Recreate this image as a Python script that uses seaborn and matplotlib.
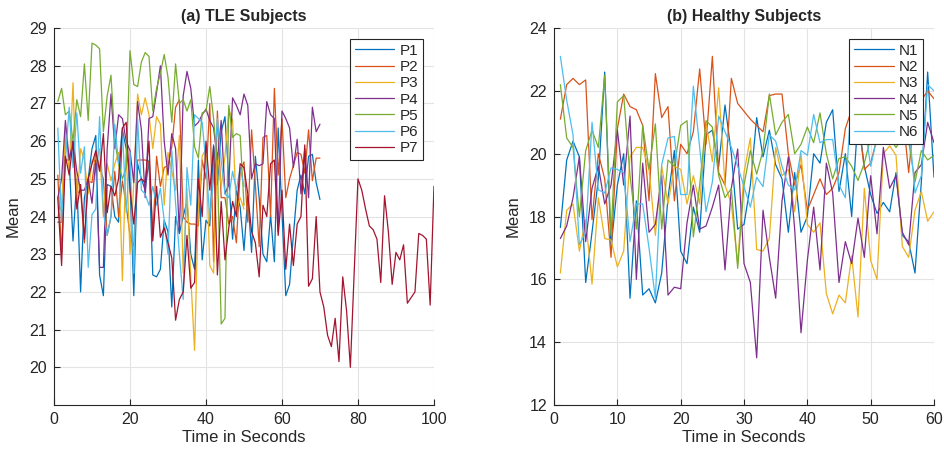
import numpy as np
import pandas as pd
import matplotlib
matplotlib.use("Agg")
import matplotlib.pyplot as plt
import seaborn as sns

# ---- TLE subjects: mean value per second ----
P1 = [23.85, 23.85, 25.5, 25.5, 23.35, 25.0, 22.0, 24.5, 25.0, 25.8,
      26.15, 22.45, 21.9, 24.85, 24.8, 24.0, 23.85, 26.3, 25.8, 25.0,
      21.9, 25.4, 25.0, 24.7, 25.5, 22.45, 22.4, 22.6, 23.9, 23.6,
      21.6, 24.0, 23.55, 24.0, 24.4, 23.0, 22.6, 25.5, 22.85, 23.9,
      23.75, 25.9, 24.85, 26.25, 26.65, 25.0, 23.4, 24.7, 24.25, 23.1,
      24.55, 23.05, 25.6, 24.5, 23.0, 22.8, 24.05, 22.8, 26.35, 24.1,
      21.9, 22.2, 23.5, 24.7, 25.1, 24.6, 25.6, 25.65, 24.9, 24.45]
P2 = [25.1, 23.0, 26.2, 25.5, 26.0, 24.6, 24.7, 23.3, 24.95, 24.9,
      25.7, 25.3, 25.0, 23.5, 24.0, 25.2, 24.0, 24.95, 24.3, 23.5,
      23.2, 25.5, 25.5, 25.5, 25.45, 23.5, 25.6, 24.8, 25.3, 25.35,
      25.85, 26.9, 27.1, 24.0, 23.85, 23.8, 23.8, 23.75, 25.5, 25.0,
      27.0, 22.8, 26.8, 24.5, 24.5, 23.8, 24.0, 23.3, 25.2, 25.45,
      23.85, 26.3, 24.85, 23.2, 26.1, 26.15, 24.0, 27.4, 25.1, 26.6,
      24.5, 25.0, 25.35, 25.7, 25.65, 25.15, 26.3, 24.95, 25.55, 25.55]
P3 = [24.0, 24.3, 26.3, 25.2, 27.55, 24.3, 25.8, 25.5, 24.6, 25.5,
      25.4, 25.8, 24.0, 25.4, 24.95, 25.4, 25.7, 22.3, 25.8, 23.0,
      24.9, 27.25, 26.7, 27.15, 26.7, 25.8, 26.65, 26.45, 24.3, 25.7,
      25.2, 24.7, 26.15, 22.5, 24.75, 22.4, 20.45, 24.3, 25.6, 25.8,
      22.7, 22.5, 25.7, 24.8, 25.6, 26.85, 26.55, 24.15, 24.5, 24.2]
P4 = [24.5, 25.0, 26.55, 25.5, 26.0, 25.2, 24.7, 24.7, 25.0, 24.35,
      25.5, 22.65, 22.65, 25.8, 27.25, 25.8, 26.7, 26.6, 26.0, 25.75,
      24.9, 27.05, 26.3, 24.5, 26.6, 26.65, 27.3, 28.0, 26.0, 25.1,
      26.2, 25.8, 23.55, 27.2, 27.85, 27.4, 26.4, 26.5, 26.7, 26.85,
      26.55, 26.35, 25.5, 26.55, 24.6, 24.85, 27.15, 26.95, 26.7, 27.25,
      26.95, 25.0, 25.4, 25.35, 25.4, 27.05, 26.7, 26.6, 23.6, 26.8,
      26.6, 26.35, 25.3, 26.05, 24.6, 25.8, 24.5, 26.9, 26.25, 26.45]
P5 = [27.05, 27.4, 26.7, 26.8, 26.0, 27.1, 26.65, 28.05, 26.55, 28.6,
      28.55, 28.45, 26.25, 27.2, 27.75, 26.0, 25.4, 25.0, 25.3, 28.4,
      27.5, 27.45, 28.1, 28.35, 28.25, 26.8, 27.4, 27.8, 28.3, 27.7,
      26.5, 28.05, 27.0, 27.1, 26.8, 27.1, 25.85, 25.55, 26.75, 26.8,
      27.45, 26.6, 25.4, 21.15, 21.3, 26.95, 26.1, 26.2, 26.15, 24.3]
P6 = [26.35, 23.85, 25.5, 26.9, 25.3, 26.75, 25.15, 25.85, 22.65, 24.05,
      24.2, 26.65, 24.1, 23.5, 24.0, 26.45, 25.4, 26.35, 24.1, 25.7,
      22.5, 26.6, 24.7, 24.6, 24.3, 24.8, 24.3, 24.75, 23.9, 23.0,
      25.75, 24.35, 23.0, 21.8, 25.3, 24.3, 26.7, 26.6, 26.5, 25.4,
      24.0, 25.0, 26.6, 25.5, 24.6, 24.5, 25.2, 24.7, 25.3, 24.8]
P7 = [24.5, 22.7, 25.6, 25.1, 26.0, 24.2, 24.85, 23.4, 25.0, 25.4,
      25.75, 25.2, 26.2, 24.1, 24.8, 24.55, 25.0, 26.35, 26.5, 24.7,
      23.8, 24.9, 25.0, 24.9, 26.0, 23.35, 24.8, 23.45, 23.7, 23.3,
      22.9, 21.25, 21.8, 22.0, 23.5, 22.1, 22.25, 25.0, 24.0, 26.0,
      24.7, 25.85, 22.45, 24.4, 22.85, 23.7, 24.4, 24.0, 25.4, 25.3,
      24.6, 23.6, 23.3, 22.4, 24.3, 24.0, 25.4, 25.5, 23.5, 24.7,
      22.6, 23.8, 22.7, 23.8, 24.0, 25.9, 22.15, 22.35, 24.0, 22.0,
      21.6, 20.85, 20.55, 21.3, 20.15, 22.4, 21.5, 20.0, 22.5, 25.0,
      24.7, 24.2, 23.75, 23.65, 23.4, 22.25, 24.55, 23.6, 22.2, 23.05,
      22.85, 23.25, 21.7, 21.85, 22.0, 23.55, 23.5, 23.4, 21.65, 24.8]

# ---- Healthy subjects ----
N1 = [17.65, 19.8, 20.4, 19.9, 15.9, 17.5, 19.2, 22.6, 17.0, 19.0,
      20.0, 15.4, 18.5, 15.5, 15.7, 15.25, 16.2, 18.6, 20.1, 16.9,
      16.5, 18.3, 17.5, 20.6, 20.75, 19.6, 21.55, 20.0, 17.6, 17.75,
      19.0, 21.15, 19.9, 20.75, 19.65, 19.2, 17.5, 19.4, 17.5, 18.0,
      20.0, 19.7, 21.0, 21.4, 18.8, 20.0, 18.0, 21.2, 19.6, 18.7,
      18.1, 18.45, 18.15, 19.4, 17.4, 17.2, 16.2, 19.1, 22.6, 19.25]
N2 = [21.1, 22.2, 22.4, 22.2, 22.35, 17.9, 20.0, 19.2, 16.7, 20.8,
      21.9, 21.5, 21.4, 20.9, 18.5, 22.55, 21.15, 21.5, 18.5, 20.3,
      20.0, 20.7, 22.7, 20.3, 23.1, 19.4, 19.0, 22.4, 21.6, 21.35,
      21.1, 20.9, 20.7, 21.85, 21.9, 21.9, 20.0, 19.0, 19.65, 18.2,
      18.7, 19.2, 18.7, 18.9, 19.4, 20.8, 21.4, 21.2, 19.5, 19.7,
      20.5, 20.9, 21.5, 21.5, 21.4, 19.4, 21.5, 21.7, 22.0, 21.75]
N3 = [16.2, 18.2, 18.4, 16.9, 17.9, 15.85, 18.6, 17.3, 17.25, 16.4,
      16.9, 19.9, 20.2, 20.2, 19.5, 17.4, 19.6, 18.4, 19.6, 19.5,
      18.4, 19.3, 18.4, 21.0, 19.75, 22.1, 19.0, 18.4, 16.5, 19.4,
      20.5, 16.95, 16.9, 17.3, 20.2, 19.3, 19.5, 18.15, 20.0, 17.75,
      17.5, 17.8, 15.55, 14.9, 15.5, 15.25, 16.75, 14.8, 18.9, 16.6,
      16.0, 20.0, 20.25, 19.95, 17.05, 16.7, 18.2, 18.8, 17.85, 18.15]
N4 = [17.3, 17.7, 18.6, 19.9, 17.2, 18.9, 19.6, 18.4, 19.0, 20.75,
      19.0, 21.2, 16.0, 19.7, 17.5, 17.75, 19.3, 15.5, 15.75, 15.7,
      17.8, 19.0, 17.6, 17.7, 18.3, 19.0, 16.3, 18.9, 20.15, 16.5,
      15.9, 13.5, 18.2, 16.7, 15.4, 18.5, 19.9, 17.6, 14.3, 16.6,
      18.3, 16.3, 19.7, 18.75, 15.9, 17.2, 16.5, 17.95, 16.7, 19.3,
      17.45, 20.2, 18.9, 19.3, 17.5, 17.1, 19.4, 19.65, 21.0, 20.35]
N5 = [22.2, 20.5, 20.2, 18.0, 20.1, 20.75, 20.2, 22.5, 17.4, 21.65,
      21.85, 19.3, 17.6, 20.9, 19.5, 20.95, 17.6, 19.8, 19.6, 20.9,
      21.05, 17.35, 19.0, 21.05, 20.85, 19.3, 18.6, 18.9, 16.35, 19.0,
      20.1, 19.35, 20.1, 21.9, 20.6, 21.0, 21.25, 20.0, 20.3, 20.85,
      20.35, 21.3, 20.0, 19.2, 19.85, 19.9, 19.6, 19.15, 19.7, 20.5,
      20.4, 20.6, 20.5, 20.2, 20.5, 20.4, 19.1, 20.1, 19.8, 19.95]
N6 = [23.1, 21.7, 20.6, 17.1, 17.5, 21.0, 18.85, 18.75, 19.55, 19.5,
      19.4, 17.2, 18.4, 18.4, 17.0, 15.4, 19.65, 20.5, 20.55, 18.7,
      18.7, 22.15, 20.2, 18.15, 19.1, 21.2, 20.7, 20.2, 19.6, 18.95,
      18.3, 19.25, 18.95, 20.6, 20.4, 19.6, 19.0, 18.85, 20.1, 19.95,
      21.25, 20.35, 20.45, 20.45, 19.0, 18.6, 22.0, 22.6, 21.0, 19.6,
      20.5, 21.1, 21.2, 21.0, 21.3, 21.0, 18.75, 19.3, 22.2, 22.0]

tle_names = ["P1", "P2", "P3", "P4", "P5", "P6", "P7"]
tle_series = [P1, P2, P3, P4, P5, P6, P7]
hc_names = ["N1", "N2", "N3", "N4", "N5", "N6"]
hc_series = [N1, N2, N3, N4, N5, N6]

colors = ["#0072BD", "#D95319", "#EDB120", "#7E2F8E",
          "#77AC30", "#4DBEEE", "#A2142F"]


def to_long(names, series):
    frames = []
    for name, vals in zip(names, series):
        frames.append(pd.DataFrame({"t": np.arange(1, len(vals) + 1),
                                    "mean": vals, "subject": name}))
    return pd.concat(frames, ignore_index=True)


sns.set_style("white")
plt.rcParams["font.family"] = ["Liberation Sans", "DejaVu Sans"]

fig = plt.figure(figsize=(9.44, 4.53), dpi=100)
ax1 = fig.add_axes([0.0572, 0.106, 0.4025, 0.832])
ax2 = fig.add_axes([0.5869, 0.106, 0.4025, 0.832])


def style_axes(ax, title, xlim, xticks, ylim, yticks):
    ax.set_xlim(*xlim)
    ax.set_ylim(*ylim)
    ax.set_xticks(xticks)
    ax.set_yticks(yticks)
    ax.grid(True, color="#e3e3e3", linewidth=0.8)
    ax.set_axisbelow(True)
    for side in ["top", "right"]:
        ax.spines[side].set_visible(False)
    for side in ["left", "bottom"]:
        ax.spines[side].set_color("#262626")
        ax.spines[side].set_linewidth(0.8)
    ax.tick_params(direction="in", length=4, width=0.8, color="#262626",
                   labelsize=11.5, labelcolor="#262626", pad=5,
                   left=True, bottom=True)
    ax.set_title(title, fontsize=11.5, fontweight="bold", pad=5)
    ax.set_xlabel("Time in Seconds", fontsize=12, color="#262626", labelpad=2)
    ax.set_ylabel("Mean", fontsize=12, color="#262626", labelpad=6)
    leg = ax.legend(loc="upper right", bbox_to_anchor=(0.983, 0.983),
                    fancybox=False, edgecolor="#262626", framealpha=1,
                    fontsize=11, handlelength=2.6, handletextpad=0.35,
                    labelspacing=0.15, borderpad=0.3, borderaxespad=0.3)
    leg.get_frame().set_linewidth(0.8)


sns.lineplot(data=to_long(tle_names, tle_series), x="t", y="mean",
             hue="subject", hue_order=tle_names, palette=colors,
             linewidth=0.9, ax=ax1)
style_axes(ax1, "(a) TLE Subjects", (0, 100), range(0, 101, 20),
           (19, 29), range(20, 30))

sns.lineplot(data=to_long(hc_names, hc_series), x="t", y="mean",
             hue="subject", hue_order=hc_names, palette=colors[:6],
             linewidth=0.9, ax=ax2)
style_axes(ax2, "(b) Healthy Subjects", (0, 60), range(0, 61, 10),
           (12, 24), range(12, 25, 2))

fig.savefig("out.png", dpi=100, facecolor="white")
